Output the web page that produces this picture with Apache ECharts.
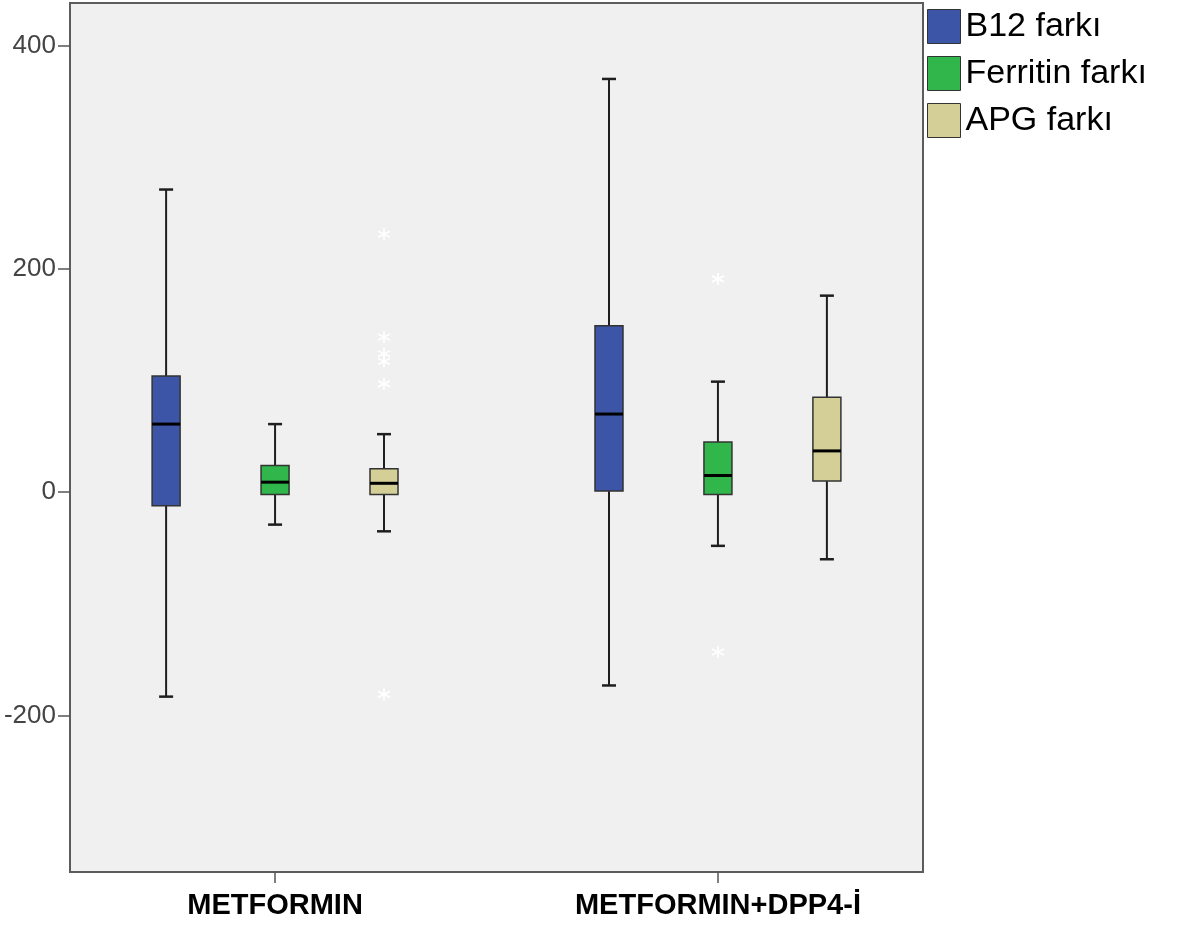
<!DOCTYPE html>
<html><head><meta charset="utf-8">
<script src="https://cdn.jsdelivr.net/npm/echarts@6/dist/echarts.min.js"></script>
<style>html,body{margin:0;padding:0;background:#fff}#c{width:1187px;height:926px}</style>
</head><body><div id="c"></div>
<script>
// ---- data ----
const groups = ['METFORMIN', 'METFORMIN+DPP4-İ'];
const seriesNames = ['B12 farkı', 'Ferritin farkı', 'APG farkı'];
// [min, Q1, median, Q3, max] for each group
const b12Box = [[-183, -12, 61, 104, 271], [-173, 1, 70, 149, 370]];
const ferritinBox = [[-29, -2, 9, 24, 61], [-48, -2, 15, 45, 99]];
const apgBox = [[-35, -2, 8, 21, 52], [-60, 10, 37, 85, 176]];
// extreme values (asterisks) for each group
const b12Outliers = [[], []];
const ferritinOutliers = [[], [191, -143]];
const apgOutliers = [[231, 139, 124, 117, 97, -181], []];
const yTicks = [-200, 0, 200, 400];

// ---- styling ----
const colors = ['#3c55a6', '#30b64b', '#d4cf97'];
const offsets = [-0.246, 0, 0.246];
const boxes = [b12Box, ferritinBox, apgBox];
const outliers = [b12Outliers, ferritinOutliers, apgOutliers];
const BOX_HALF = 14, CAP_HALF = 7;
const FONT = '"Liberation Sans", Arial, sans-serif';

function renderBox(off, color) {
  return function (params, api) {
    const gx = api.value(0) + off;
    const y = i => api.coord([gx, api.value(i)])[1];
    const x = api.coord([gx, 0])[0];
    const yMin = y(1), yQ1 = y(2), yMed = y(3), yQ3 = y(4), yMax = y(5);
    const ws = { stroke: '#1e1e1e', lineWidth: 2 };
    return {
      type: 'group',
      children: [
        { type: 'line', shape: { x1: x, y1: yQ3, x2: x, y2: yMax }, style: ws },
        { type: 'line', shape: { x1: x, y1: yQ1, x2: x, y2: yMin }, style: ws },
        { type: 'line', shape: { x1: x - CAP_HALF, y1: yMax, x2: x + CAP_HALF, y2: yMax }, style: { stroke: '#1e1e1e', lineWidth: 2.5 } },
        { type: 'line', shape: { x1: x - CAP_HALF, y1: yMin, x2: x + CAP_HALF, y2: yMin }, style: { stroke: '#1e1e1e', lineWidth: 2.5 } },
        { type: 'rect', shape: { x: x - BOX_HALF, y: yQ3, width: 2 * BOX_HALF, height: yQ1 - yQ3 },
          style: { fill: color, stroke: '#333', lineWidth: 1.5 } },
        { type: 'line', shape: { x1: x - BOX_HALF, y1: yMed, x2: x + BOX_HALF, y2: yMed }, style: { stroke: '#000', lineWidth: 3 } }
      ]
    };
  };
}

const series = [];
seriesNames.forEach((name, s) => {
  series.push({
    name: name,
    type: 'custom',
    renderItem: renderBox(offsets[s], colors[s]),
    encode: { x: 0, y: [1, 2, 3, 4, 5] },
    itemStyle: { color: colors[s] },
    data: boxes[s].map((b, g) => [g + 1].concat(b)),
    z: 3
  });
  const pts = [];
  outliers[s].forEach((arr, g) => arr.forEach(v => pts.push([g + 1 + offsets[s], v])));
  if (pts.length) {
    series.push({
      name: name + ' *',
      type: 'scatter',
      symbol: 'path://M0,-10 L0,10 M-8.66,-5 L8.66,5 M-8.66,5 L8.66,-5',
      symbolSize: 12,
      itemStyle: { color: '#ffffff', borderColor: '#ffffff', borderWidth: 1.8, opacity: 0.95 },
      data: pts,
      z: 4
    });
  }
});

const chart = echarts.init(document.getElementById('c'), null, { renderer: 'canvas' });
chart.setOption({
  animation: false,
  backgroundColor: '#ffffff',
  grid: {
    left: 70, top: 3, right: 264, bottom: 54,
    show: true, backgroundColor: '#f0f0f0', borderColor: '#5c5c5c', borderWidth: 2
  },
  legend: {
    orient: 'vertical', left: 927, top: 9, padding: 0,
    itemWidth: 33, itemHeight: 34, itemGap: 12,
    textStyle: { fontSize: 34, fontFamily: FONT, color: '#000' },
    data: seriesNames.map((n, i) => ({ name: n, icon: 'rect',
      itemStyle: { color: colors[i], borderColor: '#333', borderWidth: 1 } }))
  },
  xAxis: {
    type: 'value', min: 0.537, max: 2.463,
    axisLine: { show: true, onZero: false, lineStyle: { color: '#5c5c5c', width: 2 } },
    axisTick: { show: true, length: 11, customValues: [1, 2], lineStyle: { color: '#555', width: 1.5 } },
    axisLabel: { customValues: [1, 2], formatter: v => groups[Math.round(v) - 1] || '',
      fontSize: 29, fontWeight: 'bold', fontFamily: FONT, color: '#000', margin: 19 },
    splitLine: { show: false }
  },
  yAxis: {
    type: 'value', min: -340, max: 438,
    axisLine: { show: true, onZero: false, lineStyle: { color: '#5c5c5c', width: 2 } },
    axisTick: { show: true, length: 12, customValues: yTicks, lineStyle: { color: '#555', width: 1.5 } },
    axisLabel: { customValues: yTicks, fontSize: 26, fontFamily: FONT, color: '#444', margin: 14,
      padding: [8, 0, 0, 0] },
    splitLine: { show: false }
  },
  series: series
});
</script></body></html>
